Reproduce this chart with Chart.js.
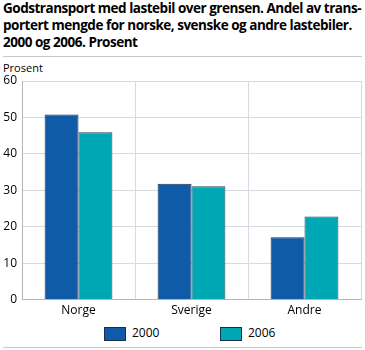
<!DOCTYPE html>
<html><head><meta charset="utf-8">
<script src="https://cdn.jsdelivr.net/npm/chart.js@4"></script>
<style>
body{margin:0;width:365px;height:350px;position:relative;background:#fff;font-family:"Open Sans",sans-serif;overflow:hidden}
#title{position:absolute;left:3px;top:0px;font-weight:bold;font-size:13.5px;line-height:17px;color:#000;white-space:nowrap;font-family:"Open Sans",sans-serif}
#sep{position:absolute;left:3px;top:56px;width:359px;height:1px;background:#c8c8c8}
#sep2{position:absolute;left:3px;top:347px;width:359px;height:1px;background:#c8c8c8}
#ylab{position:absolute;left:3px;top:60px;font-size:11px;color:#000}
#wrap{position:absolute;left:0;top:60px;width:365px;height:262px}
.lg{position:absolute;top:327px;width:20px;height:12px;border:1px solid #1b2f4a}
.lt{position:absolute;top:324px;font-size:12px;color:#000}
</style></head><body>
<div id="title"><span class="tl">Godstransport med lastebil over grensen. Andel av trans-</span><br><span class="tl">portert mengde for norske, svenske og andre lastebiler.</span><br><span class="tl">2000 og 2006. Prosent</span></div>
<div id="sep"></div>
<div id="ylab">Prosent</div>
<div id="wrap"><canvas id="c"></canvas></div>
<div id="legend"></div>
<div id="sep2"></div>
<script>
const categories = ["Norge", "Sverige", "Andre"];
const seriesNames = ["2000", "2006"];
const values2000 = [50.8, 31.8, 17.1];
const values2006 = [45.9, 31.1, 22.8];
const yTicks = [0, 10, 20, 30, 40, 50, 60];
const colors = ['#0f5ba7', '#00a8b6'];

// fit title line 1 to the reference width
(function(){
  const spans = document.querySelectorAll('.tl');
  const w = spans[0].getBoundingClientRect().width;
  const target = 358;
  const ls = (target - w) / spans[0].textContent.length;
  document.getElementById('title').style.letterSpacing = ls + 'px';
})();

// legend
(function(){
  const lg = document.getElementById('legend');
  const xs = [104, 220];
  seriesNames.forEach((n, i) => {
    const b = document.createElement('div'); b.className = 'lg';
    b.style.left = xs[i] + 'px'; b.style.background = colors[i];
    const t = document.createElement('div'); t.className = 'lt';
    t.style.left = (xs[i] + 28) + 'px'; t.textContent = n;
    lg.appendChild(b); lg.appendChild(t);
  });
})();

new Chart(document.getElementById('c'), {
  type: 'bar',
  data: {
    labels: categories,
    datasets: [
      {label: seriesNames[0], data: values2000, backgroundColor: colors[0], borderColor: '#1b2f4a', borderWidth: 1},
      {label: seriesNames[1], data: values2006, backgroundColor: colors[1], borderColor: '#1b4a55', borderWidth: 1}
    ]
  },
  options: {
    responsive: true, maintainAspectRatio: false, animation: false,
    layout: {padding: {top: 21, right: 4, left: 0, bottom: 0}},
    datasets: {bar: {barPercentage: 1.0, categoryPercentage: 0.6}},
    plugins: {
      tooltip: {enabled: false},
      legend: {display: false}
    },
    scales: {
      x: {
        grid: {offset: true, color: '#d9d9e1', lineWidth: 1, drawTicks: false},
        border: {color: '#b5b5b5'},
        ticks: {padding: 4, font: {family: 'Open Sans', size: 12}, color: '#000'}
      },
      y: {
        min: 0, max: 60,
        afterBuildTicks(scale) { scale.ticks = yTicks.map(v => ({value: v})); },
        afterFit(scale) { scale.width = 22; },
        grid: {color: '#d9d9e1', lineWidth: 1, drawTicks: false},
        border: {color: '#b5b5b5'},
        ticks: {padding: 5, font: {family: 'Open Sans', size: 12}, color: '#000'}
      }
    }
  }
});
</script>
</body></html>
